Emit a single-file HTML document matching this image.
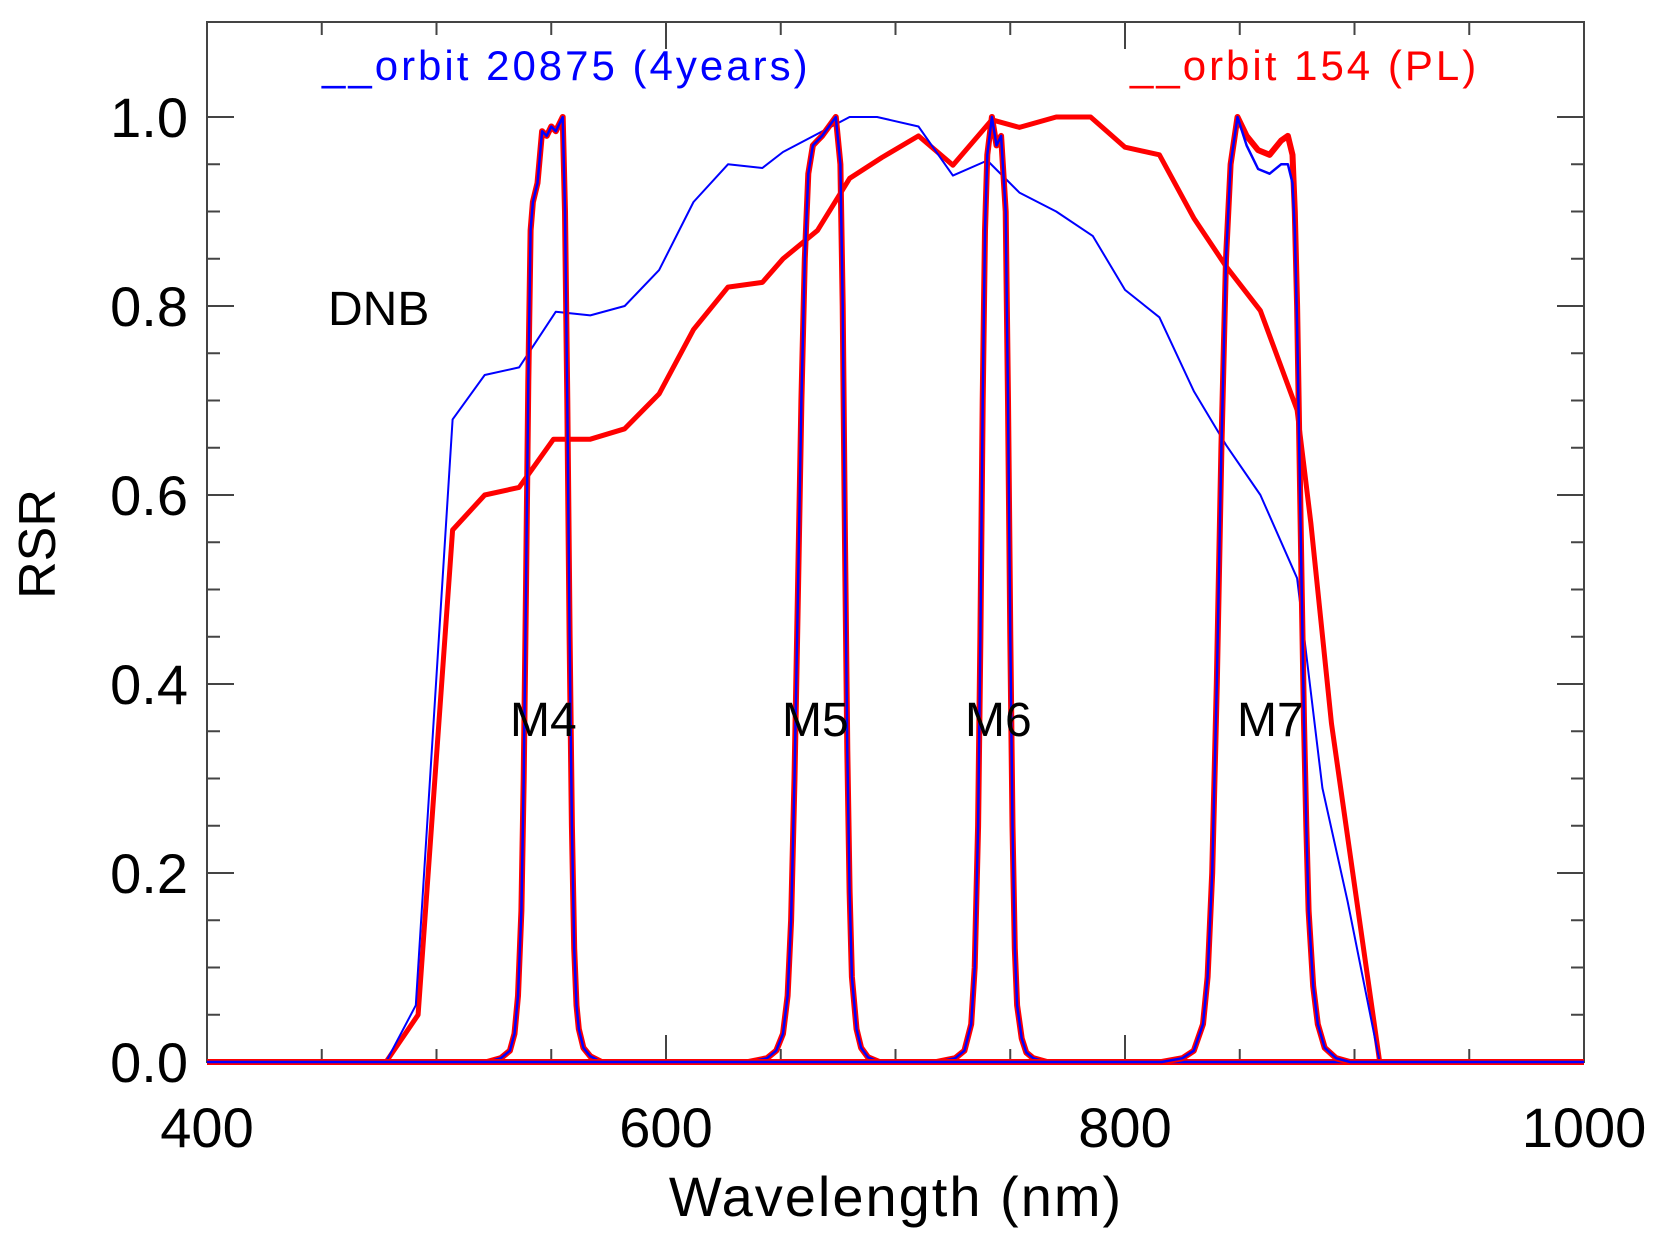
<!DOCTYPE html>
<html><head><meta charset="utf-8"><style>
body{margin:0;background:#fff;}
svg{display:block;font-family:"Liberation Sans",sans-serif;}
</style></head><body>
<svg id="chart" width="1664" height="1246" viewBox="0 0 1664 1246" xmlns="http://www.w3.org/2000/svg"></svg>
<script>
const xTicks=[400,600,800,1000];
const yTicks=[0,0.2,0.4,0.6,0.8,1.0];
const yTickLabels=["0.0","0.2","0.4","0.6","0.8","1.0"];
const dnbBlueNm=[400,478,491,507,521,536,552,567,582,597,612,627,642,651,680,692,710,725,740,754,770,786,800,815,830,844,859,875,886,897,911,1000];
const dnbBlueVal=[0,0,0.06,0.68,0.727,0.735,0.794,0.79,0.8,0.838,0.91,0.95,0.946,0.963,1.0,1.0,0.99,0.938,0.954,0.92,0.9,0.874,0.817,0.788,0.71,0.653,0.6,0.512,0.29,0.17,0,0];
const dnbRedNm=[400,478,492,507,521,536,551,567,582,597,612,627,642,651,666,680,694,710,725,742,754,770,785,800,815,830,844,859,875,881,890,911,1000];
const dnbRedVal=[0,0,0.05,0.563,0.6,0.608,0.659,0.659,0.67,0.707,0.775,0.82,0.825,0.85,0.88,0.935,0.957,0.98,0.949,0.997,0.989,1.0,1.0,0.968,0.96,0.893,0.842,0.795,0.69,0.57,0.358,0,0];
const m4Nm=[400,522,528,532,534,535.5,537,538,539,540,541,542,544,546,548,550,552,555,556,557,558,559,560,561,562,564,567,572,1000];
const m4Val=[0,0,0.004,0.012,0.03,0.07,0.16,0.3,0.5,0.72,0.88,0.91,0.93,0.985,0.98,0.99,0.985,1.0,0.9,0.7,0.45,0.25,0.12,0.06,0.035,0.015,0.006,0,0];
const m5Nm=[400,636,644,648,651,653,654.5,656,657.5,659,660.5,662,664,666,668,671,674,676,677,678,679,680,681,683,685,688,693,1000];
const m5Val=[0,0,0.004,0.012,0.03,0.07,0.15,0.3,0.5,0.7,0.85,0.94,0.97,0.975,0.98,0.99,1.0,0.95,0.8,0.55,0.33,0.18,0.09,0.035,0.015,0.005,0,0];
const m6Nm=[400,718,726,730,733,734.5,736,737,738,739,740,741,742,744,746,748,749,750,751,752,753,755,757,760,766,1000];
const m6Val=[0,0,0.004,0.012,0.04,0.1,0.25,0.45,0.7,0.88,0.96,0.98,1.0,0.97,0.98,0.9,0.7,0.45,0.25,0.12,0.06,0.025,0.01,0.004,0,0];
const m7Nm=[400,816,825,830,834,836,838,840,842,844,846,849,853,858,863,868,871,873,874,875,876,877,878,879,880,882,884,887,892,898,1000];
const m7RedVal=[0,0,0.004,0.012,0.04,0.09,0.2,0.4,0.65,0.85,0.95,1.0,0.98,0.965,0.96,0.975,0.98,0.96,0.9,0.8,0.65,0.5,0.36,0.25,0.16,0.08,0.04,0.015,0.004,0,0];
const m7BlueVal=[0,0,0.004,0.012,0.04,0.09,0.2,0.4,0.65,0.85,0.95,1.0,0.97,0.945,0.94,0.95,0.95,0.93,0.88,0.78,0.64,0.5,0.36,0.25,0.16,0.08,0.04,0.015,0.004,0,0];

const L=207,R=1584,T=22,B=1062,Y1=117;
const X=v=>L+(v-400)/600*(R-L);
const Y=v=>B-v*(B-Y1);
const NS="http://www.w3.org/2000/svg";
const svg=document.getElementById('chart');
function mk(tag,attrs){const e=document.createElementNS(NS,tag);for(const k in attrs)e.setAttribute(k,attrs[k]);svg.appendChild(e);return e;}

const frame=mk('rect',{x:L,y:T,width:R-L,height:B-T,fill:'none',stroke:'#444','stroke-width':2});



for(let v=400;v<=1000;v+=50){
  const major=xTicks.includes(v);const len=major?27:13;
  const t1=mk('line',{x1:X(v),x2:X(v),y1:B,y2:B-len,stroke:'#444','stroke-width':2});
  
  
  const t2=mk('line',{x1:X(v),x2:X(v),y1:T,y2:T+len,stroke:'#444','stroke-width':2});
  
  
}
for(let i=0;i<=20;i++){
  const v=i*0.05;if(Y(v)<T)continue;
  const major=i%4===0;const len=major?27:13;
  const t1=mk('line',{x1:L,x2:L+len,y1:Y(v),y2:Y(v),stroke:'#444','stroke-width':2});
  
  
  const t2=mk('line',{x1:R,x2:R-len,y1:Y(v),y2:Y(v),stroke:'#444','stroke-width':2});
  
  
}
xTicks.forEach(v=>{
  const t=mk('text',{x:X(v),y:1147,'text-anchor':'middle','font-size':56,fill:'#000'});
  t.textContent=String(v);
  
  
});
yTicks.forEach((v,i)=>{
  const t=mk('text',{x:188,y:Y(v)+20,'text-anchor':'end','font-size':56,fill:'#000'});
  t.textContent=yTickLabels[i];
  
  
});
function line(nm,val,color,w,name){
  const d=nm.map((n,i)=>(i?'L':'M')+X(n).toFixed(1)+','+Y(val[i]).toFixed(1)).join(' ');
  const p=mk('path',{d:d,fill:'none',stroke:color,'stroke-width':w,'stroke-linejoin':'round'});
  
  
}
line(dnbRedNm,dnbRedVal,'#ff0000',5,'dnb-red-line');
line(dnbBlueNm,dnbBlueVal,'#0000ff',2,'dnb-blue-line');
line(m4Nm,m4Val,'#ff0000',6,'m4-red-line');
line(m4Nm,m4Val,'#0000ff',2.5,'m4-blue-line');
line(m5Nm,m5Val,'#ff0000',6,'m5-red-line');
line(m5Nm,m5Val,'#0000ff',2.5,'m5-blue-line');
line(m6Nm,m6Val,'#ff0000',6,'m6-red-line');
line(m6Nm,m6Val,'#0000ff',2.5,'m6-blue-line');
line(m7Nm,m7RedVal,'#ff0000',6,'m7-red-line');
line(m7Nm,m7BlueVal,'#0000ff',2.5,'m7-blue-line');

function txt(s,x,y,size,color,name,extra){
  const t=mk('text',Object.assign({x:x,y:y,'font-size':size,fill:color},extra||{}));
  t.textContent=s;
  
  
  return t;
}
txt('__orbit 20875 (4years)',322,80,42,'#0000ff','legend-entry-blue',{'letter-spacing':'3'});
txt('__orbit 154 (PL)',1130,80,42,'#ff0000','legend-entry-red',{'letter-spacing':'3'});
txt('DNB',328,325,48,'#000','dnb-label');
txt('M4',510,736,48,'#000','m4-label');
txt('M5',782,736,48,'#000','m5-label');
txt('M6',965,736,48,'#000','m6-label');
txt('M7',1237,736,48,'#000','m7-label');
txt('Wavelength (nm)',896,1216,56,'#000','x-axis-title',{'text-anchor':'middle','letter-spacing':'2'});
txt('RSR',55,544,52,'#000','y-axis-title',{'text-anchor':'middle',transform:'rotate(-90 55 544)'});
</script>
</body></html>
